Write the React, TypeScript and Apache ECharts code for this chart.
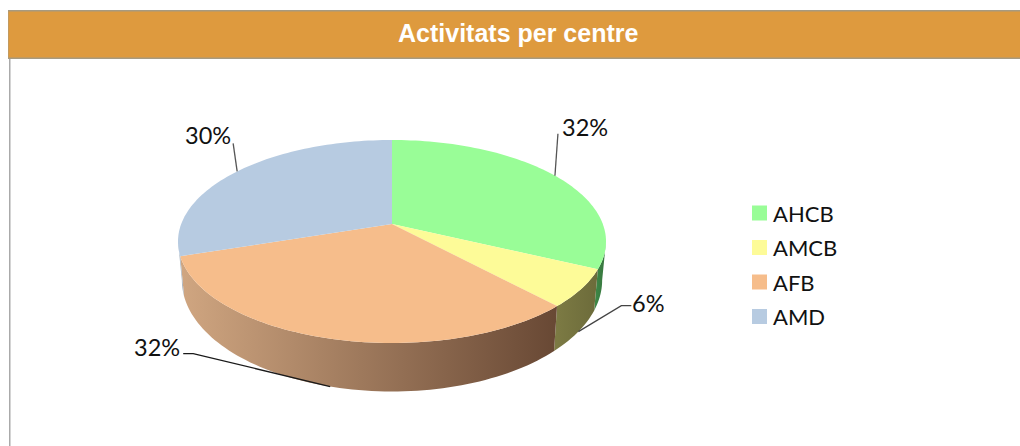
import React, { useEffect, useRef } from "react";
import * as echarts from "echarts";

const titleText = "Activitats per centre";
const categories = ["AHCB", "AMCB", "AFB", "AMD"];
const values = [32, 6, 32, 30];
const topColors = ["#99fd97", "#fdfb98", "#f6bd8b", "#b7cbe1"];
const sideStops = [
  ["#3f8a48", "#36733d"],
  ["#7d7b44", "#6c6b3a"],
  ["#d0a681", "#684834"],
  ["#a9b4bf", "#a9b4bf"],
];
// leader-line bend offsets from the rim anchor and label offsets
const leaderBends = [
  [[3, -42]],
  [[43, -26], [53, -26]],
  [[-137, -33], [-147, -33]],
  [[-4, -28]],
];
const labelPos = [
  [562, 127],
  [632, 303],
  [134, 347],
  [185, 135],
];
const leaderColors = ["#555555", "#444444", "#1a1a1a", "#555555"];
const anchorOnBottomRim = [false, true, true, false];

const CX = 392;
const Y0 = 224;
const A = 0.1724;
const B = 98.5;
const R = 210.8;
const DY = 37;
const B2 = 108;
const R2 = 207;
const TURN = Math.PI * 2;
const HORIZON = Math.acos(-A);

function topPt(t: number): [number, number] {
  const w = 1 + A * Math.cos(t);
  return [CX + (R * Math.sin(t)) / w, Y0 - (B * Math.cos(t)) / w];
}
function bottomPt(t: number): [number, number] {
  const w = 1 + A * Math.cos(t);
  return [CX + (R2 * Math.sin(t)) / w, Y0 + DY - (B2 * Math.cos(t)) / w];
}
function arcPts(fn: (t: number) => [number, number], s: number, e: number) {
  const n = Math.max(2, Math.ceil(((e - s) / TURN) * 240));
  const pts: [number, number][] = [];
  for (let i = 0; i <= n; i++) pts.push(fn(s + ((e - s) * i) / n));
  return pts;
}

const total = values.reduce((a, b) => a + b, 0);
let acc = 0;
const spans = values.map((v) => {
  const s = (acc / total) * TURN;
  acc += v;
  return [s, (acc / total) * TURN, v];
});

function makeRender(idx: number) {
  return (_params: any, api: any) => {
    const s = api.value(0);
    const e = api.value(1);
    const pct = Math.round((api.value(2) / total) * 100) + "%";
    const children: any[] = [];
    const ss = Math.max(s, HORIZON);
    const se = Math.min(e, TURN - HORIZON);
    if (se > ss) {
      const up = arcPts(topPt, ss, se);
      const down = arcPts(bottomPt, ss, se).reverse();
      const xs = [...up, ...down].map((p) => p[0]);
      children.push({
        type: "polygon",
        shape: { points: [...up, ...down] },
        style: {
          fill: new echarts.graphic.LinearGradient(
            idx === 2 ? Math.max(...xs) : Math.min(...xs), 0,
            idx === 2 ? Math.min(...xs) : Math.max(...xs), 0,
            [
              { offset: 0, color: idx === 2 ? sideStops[idx][1] : sideStops[idx][0] },
              { offset: 1, color: idx === 2 ? sideStops[idx][0] : sideStops[idx][1] },
            ],
            true
          ),
        },
      });
    }
    children.push({
      type: "polygon",
      shape: { points: [[CX, Y0], ...arcPts(topPt, s, e)] },
      style: { fill: topColors[idx] },
    });
    const mid = (s + e) / 2;
    const anchor = anchorOnBottomRim[idx] ? bottomPt(mid) : topPt(mid);
    const pts = [anchor, ...leaderBends[idx].map((o) => [anchor[0] + o[0], anchor[1] + o[1]])];
    children.push({
      type: "polyline",
      shape: { points: pts },
      style: { stroke: leaderColors[idx], lineWidth: 1.3, fill: "none" },
    });
    children.push({
      type: "text",
      style: {
        text: pct,
        x: labelPos[idx][0],
        y: labelPos[idx][1],
        fill: "#111111",
        font: "23.5px Lato",
        verticalAlign: "middle",
        align: "left",
      },
    });
    return { type: "group", children };
  };
}

export default function App() {
  const ref = useRef<HTMLDivElement>(null);
  useEffect(() => {
    const chart = echarts.init(ref.current!, null, { renderer: "svg" });
    chart.setOption({
      animation: false,
      backgroundColor: "#ffffff",
      title: {
        text: titleText,
        left: 393,
        top: 15,
        textStyle: { color: "#ffffff", fontFamily: "Liberation Sans", fontWeight: "bold", fontSize: 25 },
      },
      legend: {
        data: categories,
        orient: "vertical",
        left: 747,
        top: 197,
        icon: "rect",
        itemWidth: 15,
        itemHeight: 15,
        itemGap: 12.5,
        textStyle: { color: "#111111", fontFamily: "Lato", fontSize: 22, padding: [0, 0, 0, 1] },
        selectedMode: false,
      },
      graphic: [
        { type: "rect", z: -1, shape: { x: 9, y: 58, width: 1.5, height: 388 }, style: { fill: "#aaaaaa" } },
        { type: "rect", z: -1, shape: { x: 8, y: 10, width: 1012, height: 49 }, style: { fill: "#a79a80" } },
        { type: "rect", z: -1, shape: { x: 8.5, y: 11.5, width: 1012, height: 46 }, style: { fill: "#de9a3e" } },
      ],
      series: categories.map((name, i) => ({
        type: "custom",
        name,
        coordinateSystem: "none",
        itemStyle: { color: topColors[i] },
        data: [spans[i]],
        renderItem: makeRender(i),
        silent: true,
      })),
    });
    return () => chart.dispose();
  }, []);
  return <div ref={ref} style={{ position: "fixed", left: 0, top: 0, width: 1020, height: 446 }} />;
}
